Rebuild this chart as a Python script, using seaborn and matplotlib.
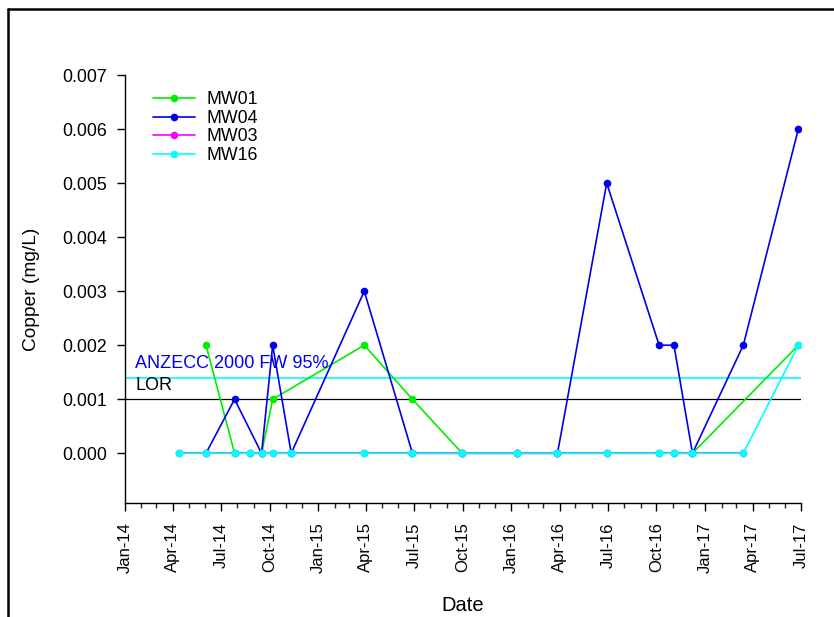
import matplotlib
matplotlib.use("Agg")
import matplotlib.pyplot as plt
import matplotlib.dates as mdates
from matplotlib.lines import Line2D
import pandas as pd
import seaborn as sns

# Sampling dates and copper results (mg/L) per monitoring well
mw01_dates = ["2014-06-03", "2014-07-27", "2014-08-26", "2014-09-16", "2014-10-07",
              "2015-03-29", "2015-06-28", "2015-09-30", "2016-01-12", "2016-03-28",
              "2016-06-29", "2016-10-06", "2016-11-03", "2016-12-08", "2017-06-26"]
mw01_values = [0.002, 0.0, 0.0, 0.0, 0.001,
               0.002, 0.001, 0.0, 0.0, 0.0,
               0.0, 0.0, 0.0, 0.0, 0.002]

mw04_dates = ["2014-06-03", "2014-07-27", "2014-09-16", "2014-10-07", "2014-11-11",
              "2015-03-29", "2015-06-28", "2015-09-30", "2016-01-12", "2016-03-28",
              "2016-06-29", "2016-10-06", "2016-11-03", "2016-12-08", "2017-03-14",
              "2017-06-26"]
mw04_values = [0.0, 0.001, 0.0, 0.002, 0.0,
               0.003, 0.0, 0.0, 0.0, 0.0,
               0.005, 0.002, 0.002, 0.0, 0.002,
               0.006]

mw03_dates = ["2014-04-13", "2014-06-03", "2014-07-27", "2014-08-26", "2014-09-16",
              "2014-10-07", "2014-11-11", "2015-03-29", "2015-06-28", "2015-09-30",
              "2016-01-12", "2016-03-28", "2016-06-29", "2016-10-06", "2016-11-03",
              "2016-12-08", "2017-03-14"]
mw03_values = [0.0] * 17

mw16_dates = ["2014-04-13", "2014-06-03", "2014-07-27", "2014-08-26", "2014-09-16",
              "2014-10-07", "2014-11-11", "2015-03-29", "2015-06-28", "2015-09-30",
              "2016-01-12", "2016-03-28", "2016-06-29", "2016-10-06", "2016-11-03",
              "2016-12-08", "2017-03-14", "2017-06-26"]
mw16_values = [0.0] * 17 + [0.002]

wells = ["MW01", "MW04", "MW03", "MW16"]
well_colors = ["#00ee00", "#0000ee", "#ff00ff", "#00ffff"]

anzecc_limit = 0.0014
lor_limit = 0.001

frames = []
for name, d, v in [("MW01", mw01_dates, mw01_values),
                   ("MW04", mw04_dates, mw04_values),
                   ("MW03", mw03_dates, mw03_values),
                   ("MW16", mw16_dates, mw16_values)]:
    frames.append(pd.DataFrame({"Date": pd.to_datetime(d), "Copper": v, "Well": name}))
df = pd.concat(frames, ignore_index=True)

sns.set_theme(style="white")
plt.rcParams["font.family"] = ["Liberation Sans", "DejaVu Sans"]
plt.rcParams["text.color"] = "black"

fig = plt.figure(figsize=(8.34, 6.17), dpi=100)
ax = fig.add_axes([125 / 834, 1 - 503 / 617, 676 / 834, 428 / 617])

palette = dict(zip(wells, well_colors))
for w in wells:
    sub = df[df["Well"] == w]
    sns.lineplot(data=sub, x="Date", y="Copper", color=palette[w], marker="o",
                 markersize=5.5, markeredgewidth=0, linewidth=1.2,
                 estimator=None, sort=False, ax=ax, legend=False)

# Guideline and limit of reporting
ax.axhline(anzecc_limit, color="#00ffff", linewidth=1.2, zorder=1)
ax.axhline(lor_limit, color="black", linewidth=0.9, zorder=1)
ax.text(pd.Timestamp("2014-01-20"), anzecc_limit + 0.0001, "ANZECC 2000 FW 95%",
        color="#0000ee", fontsize=13, va="bottom", ha="left")
ax.text(pd.Timestamp("2014-01-20"), lor_limit + 0.0001, "LOR",
        color="black", fontsize=13, va="bottom", ha="left")

ax.set_xlim(pd.Timestamp("2014-01-01"), pd.Timestamp("2017-07-01"))
ax.set_ylim(-0.00092, 0.007)
ax.set_yticks([0.0, 0.001, 0.002, 0.003, 0.004, 0.005, 0.006, 0.007])
ax.yaxis.set_major_formatter(matplotlib.ticker.FormatStrFormatter("%.3f"))

ax.xaxis.set_major_locator(mdates.MonthLocator(bymonth=[1, 4, 7, 10]))
ax.xaxis.set_minor_locator(mdates.MonthLocator())
ax.xaxis.set_major_formatter(mdates.DateFormatter("%b-%y"))
for lbl in ax.get_xticklabels():
    lbl.set_rotation(90)

ax.tick_params(axis="x", which="major", direction="out", length=6, width=1,
               pad=8, labelsize=12, colors="black", bottom=True)
ax.tick_params(axis="x", which="minor", direction="out", length=3.5, width=1,
               bottom=True)
ax.tick_params(axis="y", which="major", direction="out", length=6, width=1,
               pad=7, labelsize=12.8, colors="black", left=True)

for side in ["top", "right"]:
    ax.spines[side].set_visible(False)
for side in ["left", "bottom"]:
    ax.spines[side].set_color("black")
    ax.spines[side].set_linewidth(1.0)

ax.set_xlabel("Date", fontsize=14.5, color="black", labelpad=16)
ax.set_ylabel("Copper (mg/L)", fontsize=13.8, color="black", labelpad=16)

handles = [Line2D([0], [0], color=c, marker="o", markersize=5.5, markeredgewidth=0,
                  linewidth=1.2) for c in well_colors]
ax.legend(handles, wells, loc="upper left", bbox_to_anchor=(0.041, 0.962),
          frameon=False, fontsize=12.8, handlelength=2.4, handletextpad=0.6,
          labelspacing=0.09, borderpad=0.0, borderaxespad=0.0, labelcolor="black")

# Outer frame around the chart
fig.add_artist(Line2D([7.5 / 834, 7.5 / 834], [0, 1 - 8.5 / 617],
                      transform=fig.transFigure, color="black", linewidth=1.8))
fig.add_artist(Line2D([7.5 / 834, 1], [1 - 8.5 / 617, 1 - 8.5 / 617],
                      transform=fig.transFigure, color="black", linewidth=1.8))

fig.savefig("out.png", dpi=100, facecolor="white")
